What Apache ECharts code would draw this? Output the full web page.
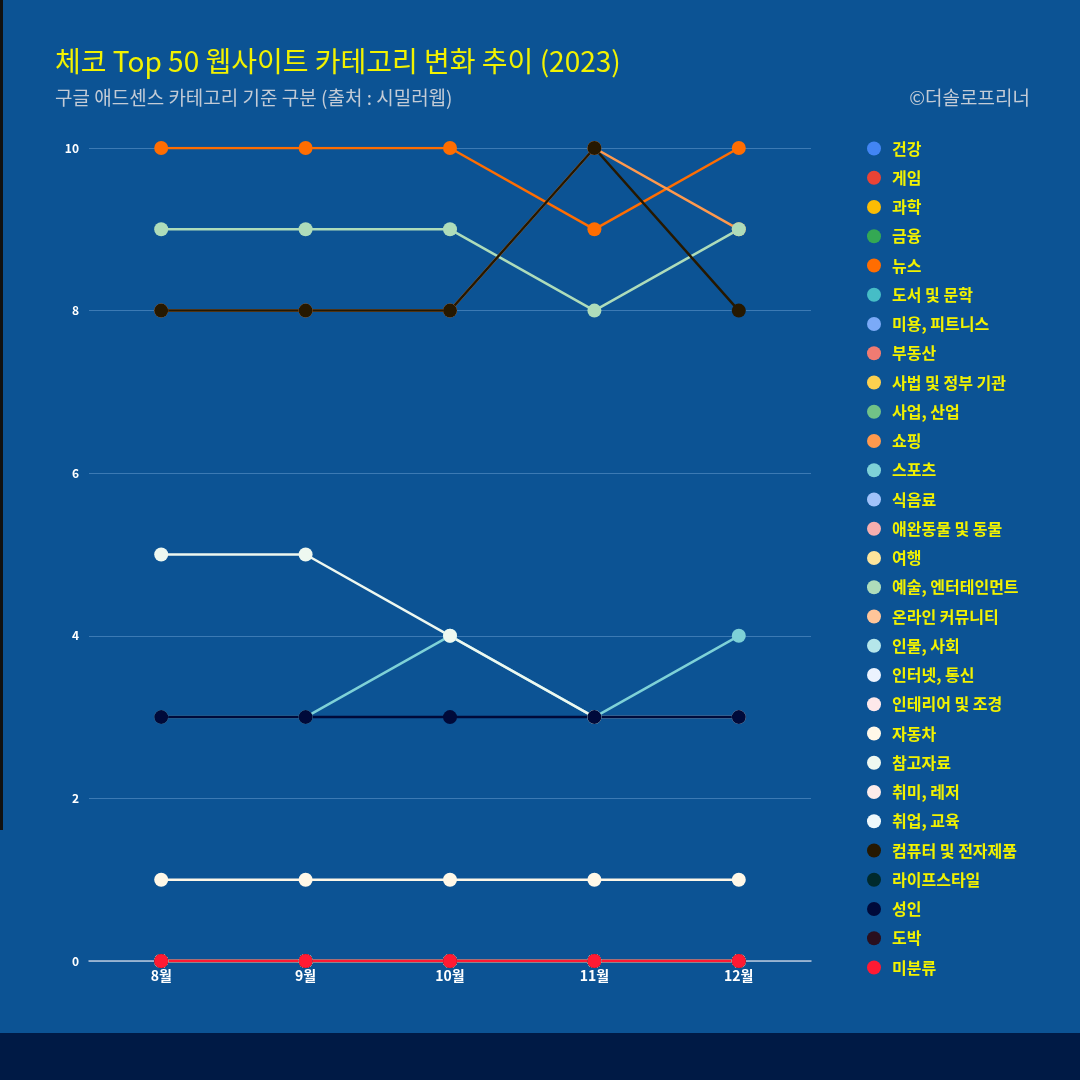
<!DOCTYPE html>
<html>
<head>
<meta charset="utf-8">
<script src="https://cdn.jsdelivr.net/npm/echarts@6/dist/echarts.min.js"></script>
<style>
html,body{margin:0;padding:0;background:#001a45;width:1080px;height:1080px;overflow:hidden;}
#chart{position:absolute;left:0;top:0;width:1080px;height:1033px;background:#0c5394;}
#edge{position:absolute;left:0;top:0;width:3px;height:830px;background:#111;}
</style>
</head>
<body>
<div id="chart"></div>
<div id="edge"></div>
<script>
const months = ['8월','9월','10월','11월','12월'];
const categories = ['건강','게임','과학','금융','뉴스','도서 및 문학','미용, 피트니스','부동산','사법 및 정부 기관','사업, 산업','쇼핑','스포츠','식음료','애완동물 및 동물','여행','예술, 엔터테인먼트','온라인 커뮤니티','인물, 사회','인터넷, 통신','인테리어 및 조경','자동차','참고자료','취미, 레저','취업, 교육','컴퓨터 및 전자제품','라이프스타일','성인','도박','미분류'];
const colors = ['#4285f4','#ea4335','#fbbc04','#34a853','#ff6d01','#46bdc6','#7baaf7','#f07b72','#fcd04f','#71c287','#ff994d','#7ed1d7','#a1c2fa','#f6aeae','#fde49b','#aedcba','#ffc599','#b5e6ea','#ecf3fe','#fde8ea','#fff8e8','#eef8f0','#fdecea','#eef8fb','#261800','#002a2c','#000a3a','#2a0f1e','#ff1a33'];
const values = {
  '건강':[0,0,0,0,0],
  '게임':[0,0,0,0,0],
  '과학':[0,0,0,0,0],
  '금융':[0,0,0,0,0],
  '뉴스':[10,10,10,9,10],
  '도서 및 문학':[0,0,0,0,0],
  '미용, 피트니스':[0,0,0,0,0],
  '부동산':[0,0,0,0,0],
  '사법 및 정부 기관':[0,0,0,0,0],
  '사업, 산업':[0,0,0,0,0],
  '쇼핑':[8,8,8,10,9],
  '스포츠':[3,3,4,3,4],
  '식음료':[0,0,0,0,0],
  '애완동물 및 동물':[0,0,0,0,0],
  '여행':[0,0,0,0,0],
  '예술, 엔터테인먼트':[9,9,9,8,9],
  '온라인 커뮤니티':[0,0,0,0,0],
  '인물, 사회':[0,0,0,0,0],
  '인터넷, 통신':[0,0,0,0,0],
  '인테리어 및 조경':[0,0,0,0,0],
  '자동차':[1,1,1,1,1],
  '참고자료':[5,5,4,3,3],
  '취미, 레저':[0,0,0,0,0],
  '취업, 교육':[0,0,0,0,0],
  '컴퓨터 및 전자제품':[8,8,8,10,8],
  '라이프스타일':[0,0,0,0,0],
  '성인':[3,3,3,3,3],
  '도박':[0,0,0,0,0],
  '미분류':[0,0,0,0,0]
};
const yTicks = [0,2,4,6,8,10];

const chart = echarts.init(document.getElementById('chart'), null, {renderer:'canvas'});
const FONT = '"Noto Sans CJK KR", "Noto Sans", sans-serif';
chart.setOption({
  backgroundColor: '#0c5394',
  color: colors,
  title: [
    {text:'체코 Top 50 웹사이트 카테고리 변화 추이 (2023)', left:50, top:42,
     textStyle:{color:'#f2f200', fontSize:28, fontWeight:'normal', fontFamily:FONT}},
    {text:'구글 애드센스 카테고리 기준 구분 (출처 : 시밀러웹)', left:50, top:83,
     textStyle:{color:'#c3cbd6', fontSize:19, fontWeight:'normal', fontFamily:FONT}},
    {text:'©더솔로프리너', right:45, top:83,
     textStyle:{color:'#c3cbd6', fontSize:19, fontWeight:'normal', fontFamily:FONT}}
  ],
  legend: {
    orient:'vertical', left:862, top:135, itemGap:12.25, itemWidth:26, itemHeight:14,
    icon:'circle',
    textStyle:{color:'#f2f200', fontSize:16, fontWeight:'bold', fontFamily:FONT, lineHeight:17},
    data: categories
  },
  grid: {left:89, right:269, top:148, bottom:72, containLabel:false},
  xAxis: {
    type:'category', data: months, boundaryGap:true,
    axisLine:{lineStyle:{color:'#b8c8dc', width:1.5}},
    axisTick:{show:false},
    axisLabel:{color:'#ffffff', fontSize:14, fontWeight:'bold', fontFamily:FONT, margin:8}
  },
  yAxis: {
    type:'value', min:0, max:10, interval:2,
    axisLine:{show:false}, axisTick:{show:false},
    splitLine:{lineStyle:{color:'rgba(120,170,220,0.45)', width:1}},
    axisLabel:{color:'#ffffff', fontSize:12, fontWeight:'bold', fontFamily:FONT, margin:10,
      formatter: v => yTicks.indexOf(v) >= 0 ? String(v) : ''}
  },
  series: categories.map((c,i)=>({
    name:c, type:'line', data: values[c],
    symbol:'circle', symbolSize:14, showSymbol:true,
    lineStyle:{width:2.5, color:colors[i]},
    itemStyle:{color:colors[i]},
    emphasis:{disabled:true},
    animation:false
  }))
});
</script>
</body>
</html>
